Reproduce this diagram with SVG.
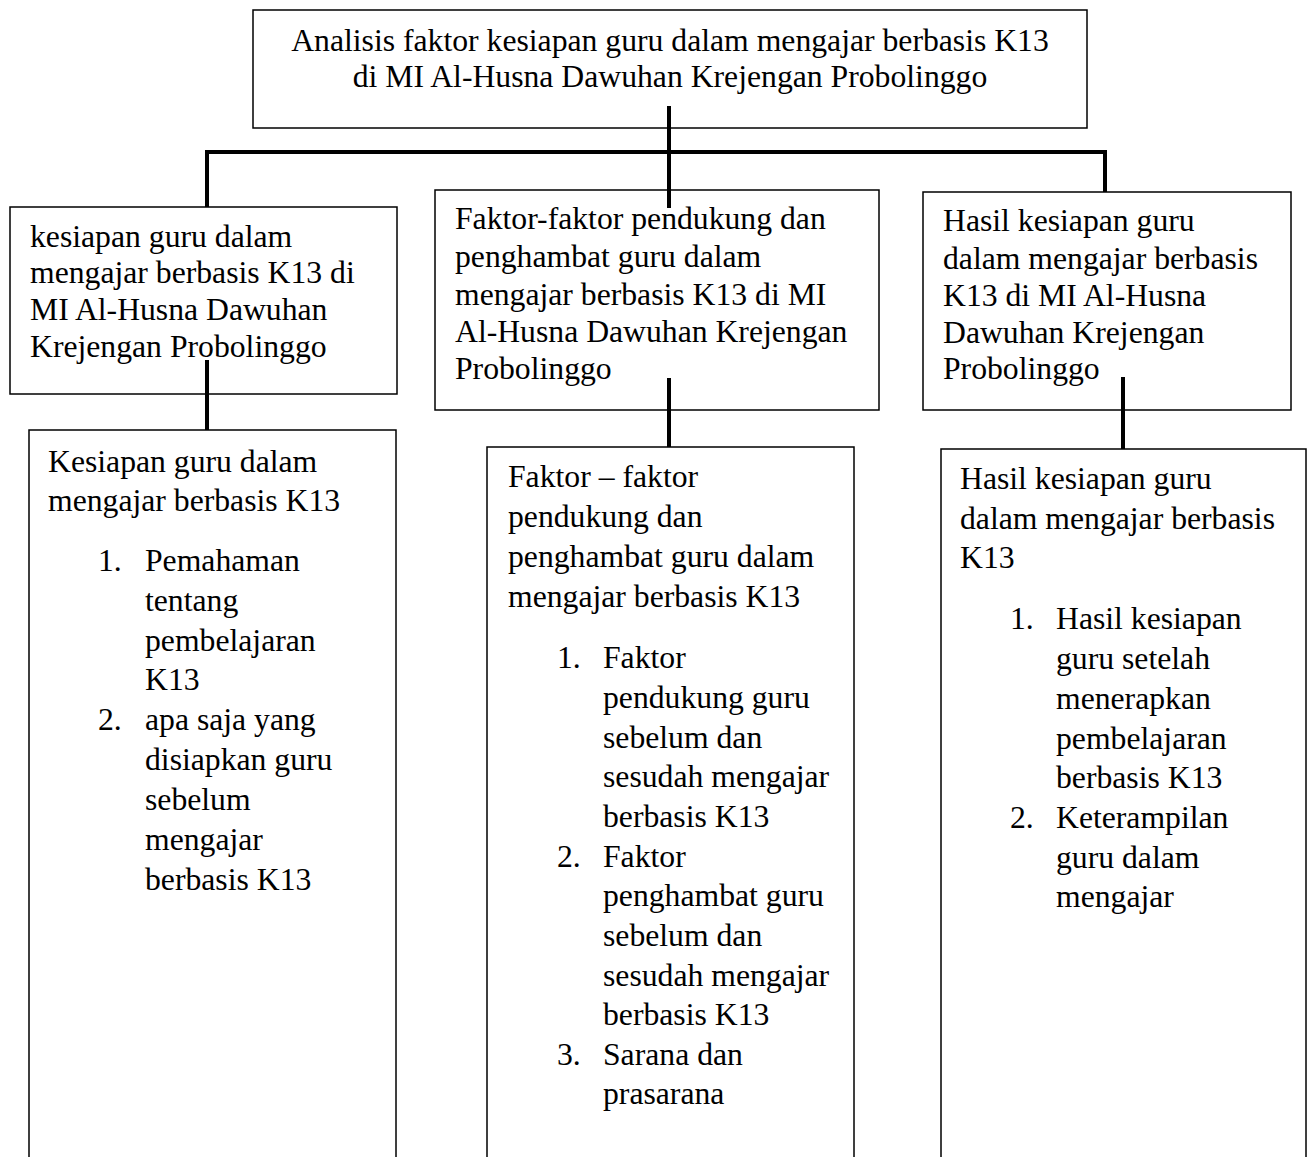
<svg xmlns="http://www.w3.org/2000/svg" width="1313" height="1157" viewBox="0 0 1313 1157">
<style>
.box{fill:#fff;stroke:#000;stroke-width:1.5}
.t{font-family:"Liberation Serif","Times New Roman",serif;font-size:31.7px;fill:#000}
.c{text-anchor:middle}
.conn{stroke:#000;stroke-width:4;fill:none}
</style>
<rect width="1313" height="1157" fill="#fff"/>
<g id="n-top">
<rect class="box" x="253" y="10" width="834" height="118"/>
<text class="t c" x="670" y="51">Analisis faktor kesiapan guru dalam mengajar berbasis K13</text>
<text class="t c" x="670" y="87">di MI Al-Husna Dawuhan Krejengan Probolinggo</text>
</g>
<g id="n-left">
<rect class="box" x="10" y="207" width="387" height="187"/>
<text class="t" x="30" y="247">kesiapan guru dalam</text>
<text class="t" x="30" y="283">mengajar berbasis K13 di</text>
<text class="t" x="30" y="320">MI Al-Husna Dawuhan</text>
<text class="t" x="30" y="357">Krejengan Probolinggo</text>
</g>
<g id="n-mid">
<rect class="box" x="435" y="190" width="444" height="220"/>
<text class="t" x="455" y="229">Faktor-faktor pendukung dan</text>
<text class="t" x="455" y="267">penghambat guru dalam</text>
<text class="t" x="455" y="305">mengajar berbasis K13 di MI</text>
<text class="t" x="455" y="342">Al-Husna Dawuhan Krejengan</text>
<text class="t" x="455" y="379">Probolinggo</text>
</g>
<g id="n-right">
<rect class="box" x="923" y="192" width="368" height="218"/>
<text class="t" x="943" y="231">Hasil kesiapan guru</text>
<text class="t" x="943" y="269">dalam mengajar berbasis</text>
<text class="t" x="943" y="306">K13 di MI Al-Husna</text>
<text class="t" x="943" y="343">Dawuhan Krejengan</text>
<text class="t" x="943" y="379">Probolinggo</text>
</g>
<g id="n-left-detail">
<rect class="box" x="29" y="430" width="367" height="760"/>
<text class="t" x="48" y="472">Kesiapan guru dalam</text>
<text class="t" x="48" y="511">mengajar berbasis K13</text>
<text class="t" x="98" y="571">1.</text>
<text class="t" x="145" y="571">Pemahaman</text>
<text class="t" x="145" y="611">tentang</text>
<text class="t" x="145" y="651">pembelajaran</text>
<text class="t" x="145" y="690">K13</text>
<text class="t" x="98" y="730">2.</text>
<text class="t" x="145" y="730">apa saja yang</text>
<text class="t" x="145" y="770">disiapkan guru</text>
<text class="t" x="145" y="810">sebelum</text>
<text class="t" x="145" y="850">mengajar</text>
<text class="t" x="145" y="890">berbasis K13</text>
</g>
<g id="n-mid-detail">
<rect class="box" x="487" y="447" width="367" height="760"/>
<text class="t" x="508" y="487">Faktor – faktor</text>
<text class="t" x="508" y="527">pendukung dan</text>
<text class="t" x="508" y="567">penghambat guru dalam</text>
<text class="t" x="508" y="607">mengajar berbasis K13</text>
<text class="t" x="557" y="668">1.</text>
<text class="t" x="603" y="668">Faktor</text>
<text class="t" x="603" y="708">pendukung guru</text>
<text class="t" x="603" y="748">sebelum dan</text>
<text class="t" x="603" y="787">sesudah mengajar</text>
<text class="t" x="603" y="827">berbasis K13</text>
<text class="t" x="557" y="867">2.</text>
<text class="t" x="603" y="867">Faktor</text>
<text class="t" x="603" y="906">penghambat guru</text>
<text class="t" x="603" y="946">sebelum dan</text>
<text class="t" x="603" y="986">sesudah mengajar</text>
<text class="t" x="603" y="1025">berbasis K13</text>
<text class="t" x="557" y="1065">3.</text>
<text class="t" x="603" y="1065">Sarana dan</text>
<text class="t" x="603" y="1104">prasarana</text>
</g>
<g id="n-right-detail">
<rect class="box" x="941" y="449" width="365" height="760"/>
<text class="t" x="960" y="489">Hasil kesiapan guru</text>
<text class="t" x="960" y="529">dalam mengajar berbasis</text>
<text class="t" x="960" y="568">K13</text>
<text class="t" x="1010" y="629">1.</text>
<text class="t" x="1056" y="629">Hasil kesiapan</text>
<text class="t" x="1056" y="669">guru setelah</text>
<text class="t" x="1056" y="709">menerapkan</text>
<text class="t" x="1056" y="749">pembelajaran</text>
<text class="t" x="1056" y="788">berbasis K13</text>
<text class="t" x="1010" y="828">2.</text>
<text class="t" x="1056" y="828">Keterampilan</text>
<text class="t" x="1056" y="868">guru dalam</text>
<text class="t" x="1056" y="907">mengajar</text>
</g>
<g id="connectors" class="conn">
<line x1="669" y1="106" x2="669" y2="208"/>
<line x1="205" y1="152" x2="1107" y2="152"/>
<line x1="207" y1="152" x2="207" y2="207"/>
<line x1="1105" y1="152" x2="1105" y2="192"/>
<line x1="207" y1="360" x2="207" y2="430"/>
<line x1="669" y1="378" x2="669" y2="447"/>
<line x1="1123" y1="377" x2="1123" y2="449"/>
</g>
</svg>
